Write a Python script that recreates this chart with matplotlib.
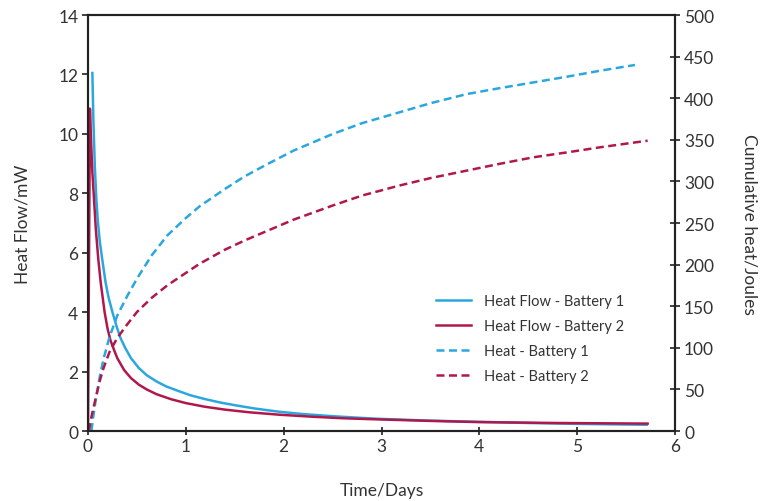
import matplotlib
matplotlib.use("Agg")
import matplotlib.pyplot as plt

# heat flow (mW) vs time (days)
flow1_t = [0.045, 0.055, 0.07, 0.085, 0.1, 0.12, 0.147, 0.18, 0.21, 0.25, 0.29, 0.33,
           0.38, 0.44, 0.52, 0.6, 0.7, 0.8, 0.93, 1.05, 1.19, 1.35, 1.5, 1.7,
           1.95, 2.2, 2.5, 2.75, 2.98, 3.5, 4.0, 4.5, 5.0, 5.71]
flow1_v = [12.05, 10.5, 8.9, 7.84, 7.1, 6.4, 5.75, 5.0, 4.5, 4.0, 3.55, 3.15,
           2.8, 2.45, 2.12, 1.88, 1.67, 1.5, 1.34, 1.2, 1.08, 0.96, 0.87, 0.76,
           0.65, 0.57, 0.5, 0.45, 0.41, 0.35, 0.31, 0.27, 0.24, 0.21]

flow2_t = [0.0, 0.02, 0.03, 0.045, 0.061, 0.08, 0.105, 0.13, 0.17, 0.2, 0.23, 0.27,
           0.3, 0.37, 0.44, 0.52, 0.6, 0.7, 0.85, 1.0, 1.19, 1.4, 1.65, 1.95,
           2.3, 2.6, 2.98, 3.5, 4.0, 4.8, 5.72]
flow2_v = [0.0, 10.85, 9.9, 8.7, 7.84, 6.8, 5.8, 5.0, 4.0, 3.45, 3.05, 2.7,
           2.45, 2.05, 1.78, 1.56, 1.4, 1.24, 1.07, 0.94, 0.82, 0.72, 0.63, 0.55,
           0.48, 0.43, 0.39, 0.34, 0.30, 0.27, 0.25]

# cumulative heat (J) vs time (days)
heat1_t = [0.035, 0.05, 0.08, 0.12, 0.16, 0.22, 0.3, 0.4, 0.5, 0.65, 0.81, 1.0, 1.14,
           1.4, 1.6, 1.82, 2.1, 2.5, 2.8, 3.18, 3.5, 3.87, 4.2, 4.55, 4.9, 5.23, 5.59]
heat1_v = [0, 14, 38, 65, 87, 113, 139, 162, 183, 211, 235, 256, 270,
           291, 306, 320, 337, 357, 370, 383, 394, 405, 412, 419, 426, 433, 440]

heat2_t = [0.01, 0.03, 0.05, 0.08, 0.12, 0.16, 0.22, 0.3, 0.4, 0.5, 0.65, 0.81, 1.0,
           1.14, 1.4, 1.6, 1.82, 2.1, 2.5, 2.8, 3.18, 3.5, 3.87, 4.2, 4.55, 4.9, 5.23, 5.72]
heat2_v = [0, 14, 25, 40, 60, 76, 95, 112, 128, 143, 160, 175, 190,
           201, 218, 229, 240, 254, 271, 283, 295, 304, 313, 321, 329, 335, 341, 349]

BLUE = "#2aa7df"
RED = "#b0184c"
TEXT = "#333333"

plt.rcParams["font.family"] = ["Lato", "DejaVu Sans"]

fig = plt.figure(figsize=(7.69, 5.02), dpi=100)
ax = fig.add_axes([0.1144, 0.1394, 0.7634, 0.8286])
ax2 = ax.twinx()

l1, = ax.plot(flow1_t, flow1_v, color=BLUE, lw=1.8, label="Heat Flow - Battery 1")
l2, = ax.plot(flow2_t, flow2_v, color=RED, lw=1.8, label="Heat Flow - Battery 2")
dash = (0, (3.2, 1.8))
l3, = ax2.plot(heat1_t, heat1_v, color=BLUE, lw=1.8, ls=dash, label="Heat - Battery 1")
l4, = ax2.plot(heat2_t, heat2_v, color=RED, lw=1.8, ls=dash, label="Heat - Battery 2")

ax.set_xlim(0, 6)
ax.set_ylim(0, 14)
ax2.set_ylim(0, 500)
ax.set_xticks(range(0, 7))
ax.set_yticks(range(0, 15, 2))
ax2.set_yticks(range(0, 501, 50))

for a in (ax, ax2):
    for sp in a.spines.values():
        sp.set_linewidth(1.5)
        sp.set_color("#222222")

ax.tick_params(axis="y", direction="out", length=4, width=1.3, labelsize=12.5,
               colors=TEXT, pad=3)
ax.tick_params(axis="x", direction="inout", length=6, width=1.3, labelsize=12.5,
               colors=TEXT, pad=2)
ax2.tick_params(axis="y", direction="inout", length=7, width=1.3, labelsize=12.5,
                colors=TEXT, pad=3)

ax.set_xlabel("Time/Days", fontsize=12.5, color=TEXT, labelpad=20)
ax.set_ylabel("Heat Flow/mW", fontsize=12.5, color=TEXT, labelpad=20)
ax2.set_ylabel("Cumulative heat/Joules", fontsize=12.5, color=TEXT,
               rotation=270, labelpad=31)

leg = ax.legend(handles=[l1, l2, l3, l4], loc="upper left",
                bbox_to_anchor=(0.57, 0.36), frameon=False, fontsize=10.5,
                handlelength=2.4, labelspacing=0.75, handletextpad=0.9)
for t in leg.get_texts():
    t.set_color(TEXT)

fig.savefig("out.png", dpi=100)
